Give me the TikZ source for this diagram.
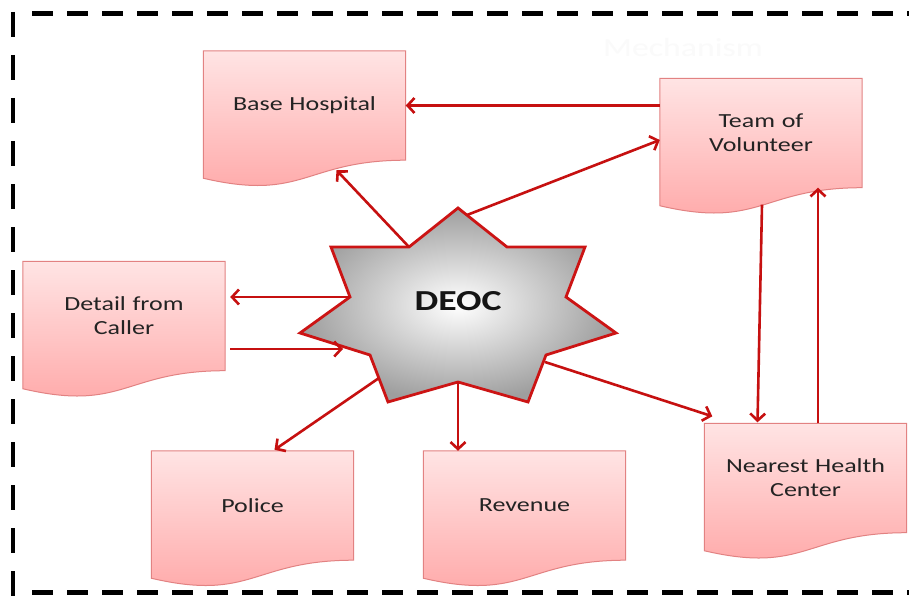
\documentclass[tikz,border=0pt]{standalone}
\usepackage{fontspec}
\setmainfont[FakeStretch=1.3]{Carlito}
\usetikzlibrary{arrows.meta,calc,backgrounds}
\definecolor{arrowred}{RGB}{198,16,16}
\definecolor{starred}{RGB}{204,20,20}
\definecolor{boxtop}{RGB}{255,228,228}
\definecolor{boxbot}{RGB}{255,166,166}
\definecolor{boxline}{RGB}{226,130,130}
\definecolor{txt}{RGB}{35,35,35}
\newcommand\docpath[1]{%
  \path[docshape] let \p1=(#1.north west), \p2=(#1.south east) in
    (\x1,\y1) -- (\x2,\y1) -- (\x2,\y2)
    .. controls ({(\x1+\x2)/2},\y2) and ({(\x1+\x2)/2},{\y2-0.381*(\y1-\y2)}) ..
    (\x1,{\y2-0.165*(\y1-\y2)}) -- cycle;}
\begin{document}
\begin{tikzpicture}[x=1pt,y=-1pt,
  docnode/.style={minimum width=202pt, minimum height=109pt, inner sep=0pt,
    text width=196pt, align=center, font=\fontsize{20}{24}\selectfont, text=txt},
  docshape/.style={draw=boxline, line width=1pt, top color=boxtop, bottom color=boxbot},
  conn/.style={draw=arrowred, line width=2.6pt, -{Straight Barb[length=7pt,width=15pt]}},
  bordh/.style={line width=5pt, dash pattern=on 21pt off 14pt, dash phase=21pt},
  bordv/.style={line width=4.5pt, dash pattern=on 25pt off 18pt},
]
\useasboundingbox (0,0) rectangle (909,596);

% border
\draw[bordh] (18,14) -- (909,14);
\draw[bordh] (18,592) -- (909,592);
\draw[bordv] (13,12) -- (13,596);

% faint label
\node[text=black!2, font=\fontsize{26}{30}\selectfont] (mech) at (683,48) {Mechanism};

% boxes
\node[docnode] (bh)  at (304.5,105.5) {Base Hospital};
\node[docnode] (tov) at (761,133)     {Team of\\Volunteer};
\node[docnode] (dfc) at (124,316)     {Detail from\\Caller};
\node[docnode] (pol) at (252.5,505.5) {Police};
\node[docnode] (rev) at (524.5,505.5) {Revenue};
\node[docnode] (nhc) at (805.5,478)   {Nearest Health\\Center};

% DEOC
\node[font=\bfseries\fontsize{29}{32}\selectfont, text=black!92] (deoc) at (458,301) {DEOC};

\begin{pgfonlayer}{background}
  \fill[white] (0,0) rectangle (909,596);
  \docpath{bh}
  \docpath{tov}
  \docpath{dfc}
  \docpath{pol}
  \docpath{rev}
  \docpath{nhc}
  \path[draw=starred, line width=2.8pt, line join=miter, inner color=white, outer color=black!38]
    (458,208) -- (507,247) -- (585,247) -- (566,297) -- (616,333) -- (546,355)
    -- (528,402) -- (458,382) -- (388,402) -- (370,355) -- (300,333) -- (350,297)
    -- (331,247) -- (409,247) -- cycle;
\end{pgfonlayer}

% star connection points
\coordinate (sTR) at (467,215);
\coordinate (sUL) at (409,247);
\coordinate (sL1) at (350,297);
\coordinate (sL2) at (343,349);
\coordinate (sLL) at (379,378);
\coordinate (sB)  at (458,382);
\coordinate (sLR) at (545,362);
\coordinate (nhcup) at ($(nhc.north)+(12.5,0)$);

% connectors
\draw[conn] (tov.west |- bh.east) -- (bh.east);
\draw[conn] (sTR) -- ($(tov.west)+(0,7)$);
\draw[conn] (sUL) -- ($(bh.south)+(32,10)$);
\draw[conn] (sL1) -- ($(sL1 -| dfc.east)+(5,0)$);
\draw[conn] ($(dfc.east)+(5,33)$) -- (sL2);
\draw[conn] (sLL) -- ($(pol.north)+(22,-1)$);
\draw[conn] (sB) -- (sB |- rev.north);
\draw[conn] (sLR) -- ($(nhc.north west)+(8,-7)$);
\draw[conn] ($(tov.south)+(1,17)$) -- ($(nhc.north)+(-48,-1)$);
\draw[conn] (nhcup) -- (nhcup |- tov.south);
\end{tikzpicture}
\end{document}
